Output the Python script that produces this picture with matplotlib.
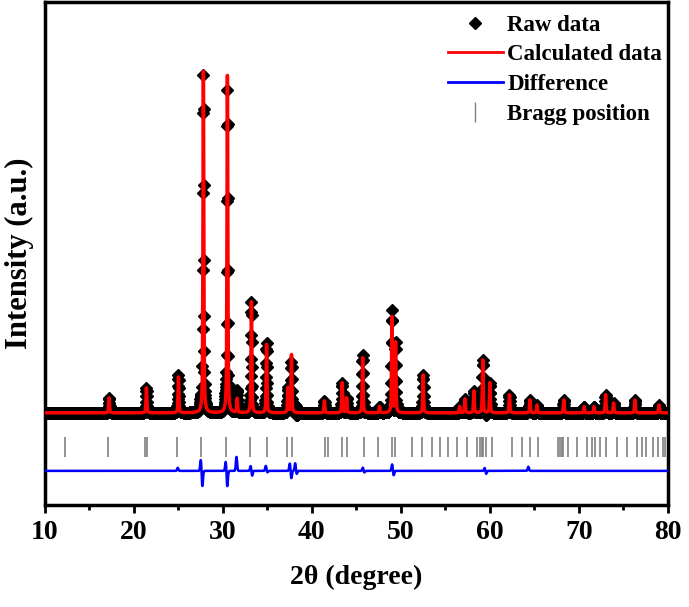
import numpy as np
import matplotlib
matplotlib.use('Agg')
import matplotlib.pyplot as plt
from matplotlib.lines import Line2D

plt.rcParams['font.family'] = ['Liberation Serif', 'DejaVu Serif']
plt.rcParams['font.weight'] = 'bold'

# peak list (2theta, height above background)
peak_pos = [17.2, 21.4, 25.0, 27.8, 30.5, 31.6, 33.2, 34.9, 37.3, 37.7,
            41.4, 43.4, 43.9, 45.7, 47.6, 49.0, 49.4, 52.5, 56.6, 57.2,
            58.2, 59.2, 60.0, 62.2, 64.5, 65.3, 68.3, 70.6, 71.7, 73.0,
            73.9, 76.3, 79.0]
peak_h = [44, 73, 105, 1000, 988, 41, 325, 200, 73, 170,
          35, 88, 44, 161, 18, 280, 205, 111, 18, 41,
          64, 155, 88, 53, 38, 23, 38, 18, 18, 53,
          29, 38, 23]
background = 100
fwhm = 0.11

# difference spikes (2theta, up, down)
diff_pos = [25.0, 27.6, 30.4, 31.6, 33.2, 34.9, 37.6, 38.2, 45.8, 49.1, 59.5, 64.4]
diff_up = [9, 35, 29, 41, 15, 15, 23, 23, 10, 20, 9, 12]
diff_dn = [0, 47, 47, 0, 15, 5, 23, 10, 5, 14, 9, 0]

bragg = [12.25, 17.1, 21.2, 21.5, 24.8, 27.5, 30.3, 33.0, 34.9, 37.2, 37.75,
         41.5, 41.8, 43.4, 43.9, 45.8, 47.4, 49.0, 49.3, 51.2, 52.4, 53.5,
         54.4, 55.3, 56.3, 57.4, 58.5, 58.9, 59.1, 59.2, 59.6, 60.2, 62.5,
         63.6, 64.5, 65.4, 67.6, 67.9, 68.1, 68.2, 68.8, 69.8, 70.9, 71.5,
         71.8, 72.4, 73.1, 74.3, 75.4, 76.5, 77.1, 77.6, 78.3, 78.9, 79.4, 79.7]

x = np.arange(10, 80.001, 0.02)
calc = np.full_like(x, background, dtype=float)
for p, h in zip(peak_pos, peak_h):
    d = (x - p) / (fwhm / 2)
    calc += h * (0.6 / (1 + d**2) + 0.4 * np.exp(-np.log(2) * d**2))

diff = np.zeros_like(x)
for p, u, dn in zip(diff_pos, diff_up, diff_dn):
    diff += u * np.exp(-((x - p + 0.08) / 0.1)**2) - dn * np.exp(-((x - p - 0.08) / 0.1)**2)

raw = calc + diff

fig = plt.figure(figsize=(6.89, 6.07), dpi=100)
ax = fig.add_axes([0.0653, 0.168, 0.904, 0.829])

ax.plot(x, raw, ls='none', marker='D', ms=6, color='black', label='Raw data', zorder=2)
ax.plot(x, calc, color='red', lw=2.5, label='Calculated data', zorder=3)
ax.plot(x, diff - 70, color='blue', lw=1.8, label='Difference', zorder=3)
ax.plot(bragg, np.zeros(len(bragg)), ls='none', marker='|', ms=14.5, mew=1.2,
        color='#808080', label='Bragg position')

ax.set_xlim(10, 80)
ax.set_ylim(-170, 1304)
ax.set_xticks(range(10, 81, 10))
ax.set_xticks(range(15, 80, 10), minor=True)
ax.set_yticks([])
ax.tick_params(axis='x', which='major', direction='out', length=6, width=2, labelsize=20, pad=5)
ax.tick_params(axis='x', which='minor', direction='out', length=3.5, width=2)
for s in ax.spines.values():
    s.set_linewidth(2.5)

ax.set_xlabel('2θ (degree)', fontsize=20, fontweight='bold', labelpad=14)
ax.set_ylabel('Intensity (a.u.)', fontsize=22, fontweight='bold', labelpad=8)

handles = [Line2D([], [], ls='none', marker='D', ms=6, color='black'),
           Line2D([], [], color='red', lw=2),
           Line2D([], [], color='blue', lw=2),
           Line2D([], [], ls='none', marker='|', ms=14, mew=1, color='#808080')]
ax.legend(handles, ['Raw data', 'Calculated data', 'Difference', 'Bragg position'],
          loc='upper right', bbox_to_anchor=(1.0, 0.986), frameon=False, handlelength=2.4,
          handletextpad=0.2, labelspacing=0.38, borderaxespad=0.1, borderpad=0.15,
          prop={'weight': 'bold', 'size': 16.5})

fig.savefig('out.png', dpi=100)
